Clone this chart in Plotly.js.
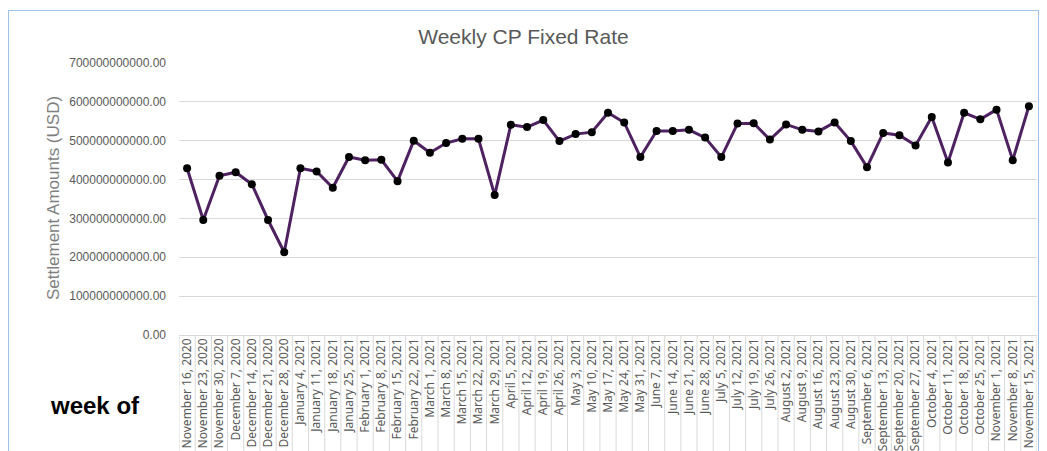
<!DOCTYPE html>
<html>
<head>
<meta charset="utf-8">
<script src="https://cdn.plot.ly/plotly-3.0.1.min.js"></script>
<style>
  html, body { margin: 0; padding: 0; background: #ffffff; overflow: hidden; }
  #wrap { position: relative; width: 1047px; height: 451px; }
  #chart { width: 1047px; height: 451px; }
  #frame { position: absolute; left: 8px; top: 10px; width: 1031px; height: 470px;
           border: 1.5px solid #9dc3e6; pointer-events: none; box-sizing: border-box; }
</style>
</head>
<body>
<div id="wrap">
  <div id="chart"></div>
  <div id="frame"></div>
</div>
<script>
const weeks = [
  "November 16, 2020","November 23, 2020","November 30, 2020","December 7, 2020","December 14, 2020",
  "December 21, 2020","December 28, 2020","January 4, 2021","January 11, 2021","January 18, 2021",
  "January 25, 2021","February 1, 2021","February 8, 2021","February 15, 2021","February 22, 2021",
  "March 1, 2021","March 8, 2021","March 15, 2021","March 22, 2021","March 29, 2021",
  "April 5, 2021","April 12, 2021","April 19, 2021","April 26, 2021","May 3, 2021",
  "May 10, 2021","May 17, 2021","May 24, 2021","May 31, 2021","June 7, 2021",
  "June 14, 2021","June 21, 2021","June 28, 2021","July 5, 2021","July 12, 2021",
  "July 19, 2021","July 26, 2021","August 2, 2021","August 9, 2021","August 16, 2021",
  "August 23, 2021","August 30, 2021","September 6, 2021","September 13, 2021","September 20, 2021",
  "September 27, 2021","October 4, 2021","October 11, 2021","October 18, 2021","October 25, 2021",
  "November 1, 2021","November 8, 2021","November 15, 2021"
];

// Settlement amounts in billions of USD
const amountsBillions = [
  429, 296, 410, 419, 388, 296, 213, 429, 421, 379,
  458, 450, 451, 396, 500, 469, 494, 505, 505, 360,
  541, 535, 553, 499, 517, 522, 572, 547, 458, 525,
  525, 528, 508, 458, 544, 545, 503, 542, 528, 524,
  547, 499, 432, 520, 514, 488, 561, 444, 572, 555,
  580, 450, 589
];
const amounts = amountsBillions.map(v => v * 1e9);

const yTickVals = [0, 1e11, 2e11, 3e11, 4e11, 5e11, 6e11, 7e11];

const trace = {
  type: 'scatter',
  mode: 'lines+markers',
  x: weeks,
  y: amounts,
  line: { color: '#4e2160', width: 3 },
  marker: { color: '#000000', size: 8 },
  hoverinfo: 'x+y'
};

// category boundary lines extending through the label area
const shapes = [];
for (let i = 0; i <= weeks.length; i++) {
  shapes.push({
    type: 'line', xref: 'x', yref: 'paper',
    x0: i - 0.5, x1: i - 0.5, y0: 0, y1: -0.45,
    line: { color: '#d9d9d9', width: 1 }
  });
}

const layout = {
  width: 1047, height: 451,
  margin: { l: 179, r: 10, t: 63, b: 116, pad: 0 },
  paper_bgcolor: '#ffffff', plot_bgcolor: '#ffffff',
  showlegend: false,
  title: {
    text: 'Weekly CP Fixed Rate',
    x: 0.5, xanchor: 'center', xref: 'container',
    y: 1 - 37 / 451, yanchor: 'middle', yref: 'container',
    font: { family: 'Liberation Sans, Arial, sans-serif', size: 21, color: '#595959' }
  },
  xaxis: {
    type: 'category',
    range: [-0.5, weeks.length - 0.5],
    tickangle: -90,
    showgrid: false, zeroline: false, showline: false,
    ticks: '',
    tickfont: { family: 'Noto Sans, Open Sans, sans-serif', size: 12, color: '#595959' },
    fixedrange: true
  },
  yaxis: {
    range: [0, 7e11],
    tickvals: yTickVals,
    tickformat: '.2f',
    showgrid: true, gridcolor: '#d9d9d9', gridwidth: 1,
    zeroline: true, zerolinecolor: '#d9d9d9', zerolinewidth: 1,
    showline: false, ticks: '',
    ticklabelstandoff: 12,
    tickfont: { family: 'Liberation Sans, Arial, sans-serif', size: 12, color: '#595959' },
    fixedrange: true
  },
  shapes: shapes,
  annotations: [
    {
      text: 'Settlement Amounts (USD)',
      xref: 'paper', yref: 'paper',
      x: (53 - 179) / 858, y: (335 - 198) / 272,
      xanchor: 'center', yanchor: 'middle',
      textangle: -90, showarrow: false,
      font: { family: 'Liberation Sans, Arial, sans-serif', size: 17, color: '#7f7f7f' }
    },
    {
      text: '<b>week of</b>',
      xref: 'paper', yref: 'paper',
      x: (48 - 179) / 858, y: (335 - 405) / 272,
      xanchor: 'left', yanchor: 'middle',
      showarrow: false,
      font: { family: 'Liberation Sans, Arial, sans-serif', size: 24, color: '#000000' }
    }
  ]
};

Plotly.newPlot('chart', [trace], layout, { displayModeBar: false, staticPlot: true });
</script>
</body>
</html>
